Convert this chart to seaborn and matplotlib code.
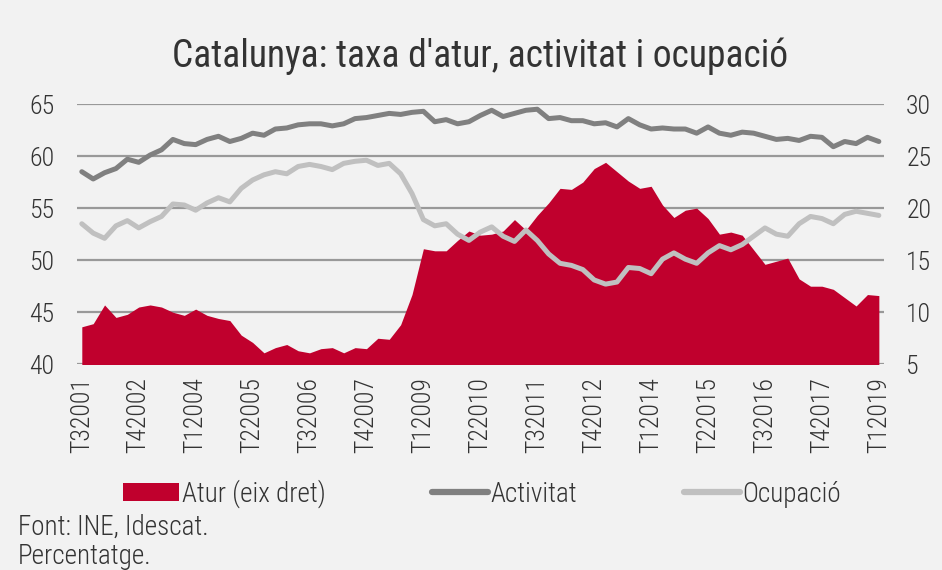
import numpy as np
import pandas as pd
import matplotlib
matplotlib.use('Agg')
import matplotlib.pyplot as plt
import seaborn as sns
from matplotlib import font_manager
from matplotlib.patches import Patch
from matplotlib.lines import Line2D

# Trimestres T3 2001 - T1 2019
quarters = [f'T{q}{y}' for y in range(2001, 2020) for q in range(1, 5)]
quarters = quarters[2:quarters.index('T12019') + 1]

tick_labels = ['T32001', 'T42002', 'T12004', 'T22005', 'T32006', 'T42007', 'T12009', 'T22010',
               'T32011', 'T42012', 'T12014', 'T22015', 'T32016', 'T42017', 'T12019']

# Taxa d'atur (eix dret)
atur = [8.6, 8.9, 10.7, 9.5, 9.8, 10.5, 10.7, 10.5, 10.0, 9.7,
        10.3, 9.7, 9.4, 9.2, 7.8, 7.1, 6.1, 6.6, 6.9, 6.3,
        6.1, 6.5, 6.6, 6.1, 6.6, 6.5, 7.5, 7.4, 8.8, 11.7,
        16.1, 15.9, 15.9, 16.9, 17.8, 17.4, 17.5, 17.8, 18.9, 17.9,
        19.3, 20.5, 21.9, 21.8, 22.5, 23.8, 24.4, 23.5, 22.6, 21.9,
        22.1, 20.3, 19.1, 19.8, 20.0, 19.0, 17.5, 17.7, 17.4, 16.0,
        14.6, 14.9, 15.2, 13.2, 12.5, 12.5, 12.2, 11.4, 10.6, 11.7,
        11.6]

# Taxa d'activitat
activitat = [58.5, 57.8, 58.4, 58.8, 59.7, 59.4, 60.1, 60.6, 61.6, 61.2,
             61.1, 61.6, 61.9, 61.4, 61.7, 62.2, 62.0, 62.6, 62.7, 63.0,
             63.1, 63.1, 62.9, 63.1, 63.6, 63.7, 63.9, 64.1, 64.0, 64.2,
             64.3, 63.3, 63.5, 63.1, 63.3, 63.9, 64.4, 63.8, 64.1, 64.4,
             64.5, 63.6, 63.7, 63.4, 63.4, 63.1, 63.2, 62.8, 63.6, 63.0,
             62.6, 62.7, 62.6, 62.6, 62.2, 62.8, 62.2, 62.0, 62.3, 62.2,
             61.9, 61.6, 61.7, 61.5, 61.9, 61.8, 60.9, 61.4, 61.2, 61.8,
             61.4]

# Taxa d'ocupació
ocupacio = [53.5, 52.6, 52.1, 53.3, 53.8, 53.1, 53.7, 54.2, 55.4, 55.3,
            54.8, 55.5, 56.0, 55.6, 56.9, 57.7, 58.2, 58.5, 58.3, 59.0,
            59.2, 59.0, 58.7, 59.3, 59.5, 59.6, 59.1, 59.3, 58.3, 56.4,
            53.9, 53.3, 53.5, 52.5, 51.9, 52.7, 53.2, 52.3, 51.8, 52.9,
            51.9, 50.6, 49.7, 49.5, 49.1, 48.1, 47.7, 47.9, 49.3, 49.2,
            48.7, 50.1, 50.7, 50.1, 49.7, 50.7, 51.4, 51.0, 51.5, 52.3,
            53.1, 52.5, 52.3, 53.5, 54.2, 54.0, 53.5, 54.4, 54.7, 54.5,
            54.3]

df = pd.DataFrame({'trimestre': quarters, 'atur': atur,
                   'activitat': activitat, 'ocupacio': ocupacio})
df['pos'] = np.arange(len(df))

# colors
RED = '#c0002d'
DARK = '#808080'
LIGHT = '#c0c0c0'
BG = '#f2f2f2'
TXT = '#333333'

sns.set_style('white')
names = {f.name for f in font_manager.fontManager.ttflist}
fam = next((n for n in ['Roboto Condensed', 'Liberation Sans Narrow', 'Open Sans Condensed', 'Roboto']
            if n in names), 'DejaVu Sans')
plt.rcParams['font.family'] = [fam, 'DejaVu Sans']
plt.rcParams['font.weight'] = 'light'
plt.rcParams['text.color'] = TXT

FS = 18.5
FS_LEG = 19.5

fig = plt.figure(figsize=(9.42, 5.70), dpi=100, facecolor=BG)
ax2 = fig.add_axes([0.0814, 0.3609, 0.857, 0.4566])  # eix dret: atur + graella
ax = ax2.twinx()                                        # eix esquerre: línies
ax.yaxis.tick_left()
ax2.yaxis.tick_right()
ax2.set_facecolor(BG)
ax.patch.set_visible(False)

# graella darrere de l'àrea
ax2.set_axisbelow(True)
ax2.grid(axis='y', color='#999999', linewidth=1.6)
ax2.fill_between(df['pos'], df['atur'], 0, color=RED, linewidth=0)

sns.lineplot(data=df, x='pos', y='activitat', ax=ax, color=DARK, linewidth=3.6)
sns.lineplot(data=df, x='pos', y='ocupacio', ax=ax, color=LIGHT, linewidth=3.6)

ax.set_ylim(40, 65)
ax2.set_ylim(5, 30)
ax.set_yticks(range(40, 66, 5))
ax2.set_yticks(range(5, 31, 5))
ax.set_xlim(-0.45, len(df) - 0.55)
ax2.set_xlim(-0.45, len(df) - 0.55)
ax2.set_xticks(range(0, len(df), 5))
ax2.set_xticklabels(tick_labels, rotation=90)
ax.set_xlabel('')
ax.set_ylabel('')
ax2.set_xlabel('')
ax2.set_ylabel('')

for a in (ax, ax2):
    for s in a.spines.values():
        s.set_visible(False)
ax.tick_params(axis='y', length=0, pad=16, labelsize=FS, labelcolor=TXT)
ax2.tick_params(axis='y', length=0, pad=16, labelsize=FS, labelcolor=TXT)
ax2.tick_params(axis='x', length=0, pad=9, labelsize=FS, labelcolor=TXT)
ax.tick_params(axis='x', length=0, labelbottom=False)

ax2.set_title("Catalunya: taxa d'atur, activitat i ocupació", fontsize=27, color=TXT, pad=27)

handles = [Patch(facecolor=RED, edgecolor='none'),
           Line2D([0], [0], color=DARK, linewidth=4.5),
           Line2D([0], [0], color=LIGHT, linewidth=4.5)]
fig.legend(handles, ['Atur (eix dret)', 'Activitat', 'Ocupació'], loc='center',
           bbox_to_anchor=(0.512, 0.134), ncol=3, frameon=False, fontsize=FS_LEG,
           handlelength=2.05, handleheight=0.65, handletextpad=0.1, columnspacing=3.95)

fig.text(18 / 942, 1 - 527 / 570, 'Font: INE, Idescat.', fontsize=FS_LEG, va='center', ha='left')
fig.text(18 / 942, 1 - 557 / 570, 'Percentatge.', fontsize=FS_LEG, va='center', ha='left')

fig.savefig('out.png', dpi=100, facecolor=BG)
